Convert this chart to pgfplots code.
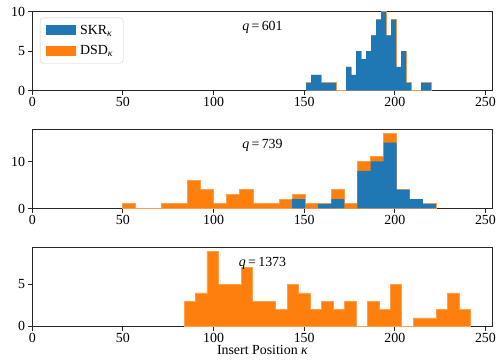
\documentclass[border=0pt]{standalone}
\usepackage{fontspec}
\setmainfont{Liberation Serif}
\usepackage{pgfplots}
\pgfplotsset{compat=1.18}
\definecolor{tabblue}{HTML}{1F77B4}
\definecolor{taborange}{HTML}{FF7F0E}
\pgfplotsset{
  myax/.style={
    scale only axis, width=460.4pt, height=79pt,
    xmin=0, xmax=254, ymin=0,
    xtick={0,50,100,150,200,250},
    tick align=outside, xtick pos=bottom, ytick pos=left,
    major tick length=4.5pt,
    axis line style={black!85, line width=0.9pt},
    every tick/.style={black!85, line width=0.9pt},
    font=\fontsize{13.9}{16}\selectfont,
    /pgf/number format/assume math mode=true,
    xticklabel style={inner sep=2pt},
    yticklabel style={inner sep=2.5pt},
    clip=true,
  },
  hO/.style={const plot, fill=taborange, draw=taborange!75!white, line width=0.7pt},
  hB/.style={const plot, fill=tabblue, draw=none},
}
\begin{document}
\begin{tikzpicture}
% ---------------- panel 1 ----------------
\begin{axis}[myax, at={(0pt,0pt)}, anchor=north west, ymax=10, ytick={0,5,10},
  reverse legend,
  legend style={at={(0.0167,0.925)}, anchor=north west, draw=black!20, rounded corners=3pt,
    fill=white, font=\fontsize{13.9}{16}\selectfont, row sep=6pt, inner xsep=6pt, inner ysep=5pt,
    nodes={inner xsep=4pt}},
  legend cell align=left,
  legend image code/.code={\fill[#1,draw=none,sharp corners] (0pt,-5pt) rectangle (30pt,5pt);},
  ]
\addplot[hO] table {
x y
151.00 1
153.76 2
156.52 2
159.28 1
162.04 1
164.80 1
167.56 0
170.32 0
173.08 3
175.84 2
178.60 5
181.36 4
184.12 5
186.88 7
189.64 9
192.40 10
195.16 7
197.92 9
200.68 3
203.44 5
206.20 1
208.96 0
211.72 0
214.48 1
217.24 1
220.00 1
} \closedcycle;
\addlegendentry{DSD\textsubscript{\textit{κ}}}
\addplot[hB] table {
x y
151.00 1
153.76 2
156.52 2
159.28 1
162.04 1
164.80 1
167.56 0
170.32 0
173.08 3
175.84 2
178.60 5
181.36 4
184.12 5
186.88 7
189.64 9
192.40 10
195.16 7
197.92 9
200.68 3
203.44 5
206.20 1
208.96 0
211.72 0
214.48 1
217.24 1
220.00 1
} \closedcycle;
\addlegendentry{SKR\textsubscript{\textit{κ}}}
\node at (rel axis cs:0.5,0.8) {\textit{q}\,=\,601};
\end{axis}
% ---------------- panel 2 ----------------
\begin{axis}[myax, at={(0pt,-117.8pt)}, anchor=north west, ymax=16.8, ytick={0,10}]
\addplot[hO] table {
x y
49.60 1
56.81 0
64.02 0
71.23 1
78.44 1
85.65 6
92.86 4
100.07 1
107.28 3
114.49 4
121.70 1
128.91 1
136.12 2
143.33 3
150.54 1
157.75 1
164.96 4
172.17 1
179.38 10
186.59 11
193.80 16
201.01 4
208.22 2
215.43 1
222.64 1
} \closedcycle;
\addplot[hB] table {
x y
143.33 2
150.54 0
157.75 1
164.96 2
172.17 0
179.38 8
186.59 10
193.80 14
201.01 4
208.22 2
215.43 1
222.64 1
} \closedcycle;
\node at (rel axis cs:0.5,0.8) {\textit{q}\,=\,739};
\end{axis}
% ---------------- panel 3 ----------------
\begin{axis}[myax, at={(0pt,-235.6pt)}, anchor=north west, ymax=9.45, ytick={0,5},
  xlabel={Insert Position \textit{κ}}, xlabel style={inner sep=0pt, yshift=-1pt}]
\addplot[hO] table {
x y
83.70 3
90.02 4
96.35 9
102.67 5
109.00 5
115.32 7
121.64 3
127.97 3
134.29 2
140.62 5
146.94 4
153.26 2
159.59 3
165.91 2
172.24 3
178.56 0
184.88 3
191.21 2
197.53 5
203.86 0
210.18 1
216.50 1
222.83 2
229.15 4
235.48 2
241.80 2
} \closedcycle;
\node at (rel axis cs:0.5,0.8) {\textit{q}\,=\,1373};
\end{axis}
\pgfresetboundingbox
\path[use as bounding box] (-32.3pt,11.7pt) rectangle (465.7pt,-351.3pt);
\end{tikzpicture}
\end{document}
